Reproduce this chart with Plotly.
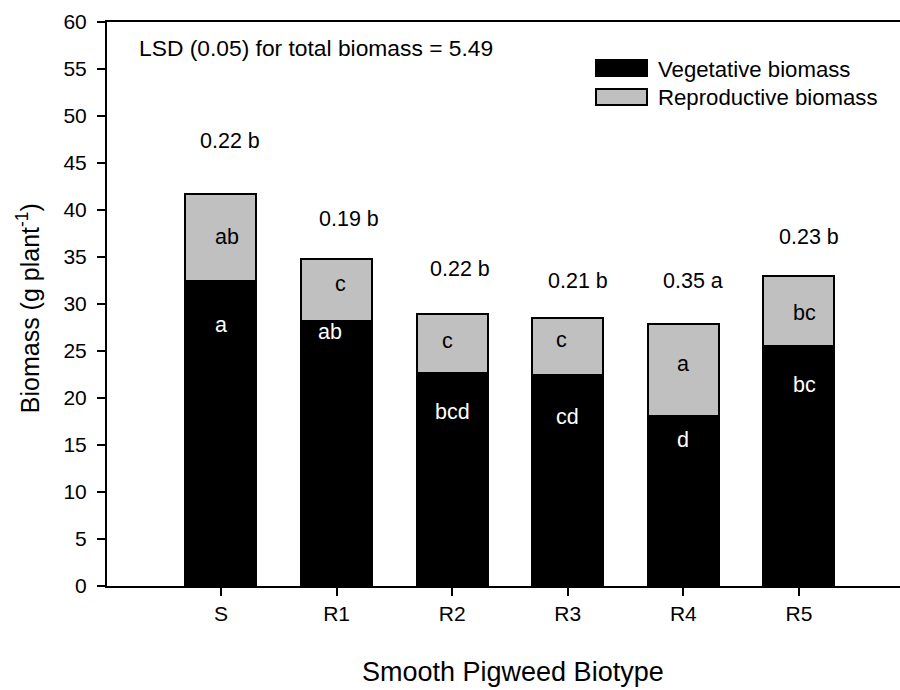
import plotly.graph_objects as go

# Biomass partitioning of smooth pigweed biotypes
biotypes = ["S", "R1", "R2", "R3", "R4", "R5"]
vegetative = [32.5, 28.2, 22.7, 22.5, 18.1, 25.5]
total = [41.7, 34.8, 28.9, 28.5, 27.9, 33.0]
reproductive = [round(t - v, 2) for t, v in zip(total, vegetative)]

veg_letters = ["a", "ab", "bcd", "cd", "d", "bc"]
rep_letters = ["ab", "c", "c", "c", "a", "bc"]
ratio_labels = ["0.22 b", "0.19 b", "0.22 b", "0.21 b", "0.35 a", "0.23 b"]
series_names = ["Vegetative biomass", "Reproductive biomass"]
lsd_note = "LSD (0.05) for total biomass = 5.49"

# label placement (y in data units, x shift in px)
veg_label_y = [27.8, 27.0, 18.5, 18.0, 15.5, 21.4]
veg_label_dx = [0, -7, 0, 0, 0, 6]
rep_label_y = [37.1, 32.1, 26.1, 26.2, 23.6, 29.0]
rep_label_dx = [6, 4, -5, -6, 0, 6]
top_label_y = [47.3, 39.0, 33.7, 32.4, 32.4, 37.1]
top_label_dx = [9, 12, 8, 10, 10, 10]

FONT = "Liberation Sans, Arial, sans-serif"
FS = 21.5
NOTE_FS = 22.8
LEG_FS = 22.2
TICK_FS = 21
GREY = "#C0C0C0"
xpos = list(range(len(biotypes)))
BAR_W = 0.614

fig = go.Figure()
fig.add_trace(go.Bar(
    x=xpos, y=vegetative, name=series_names[0], width=BAR_W,
    marker=dict(color="black", line=dict(color="black", width=2)),
))
fig.add_trace(go.Bar(
    x=xpos, y=reproductive, name=series_names[1], width=BAR_W,
    marker=dict(color=GREY, line=dict(color="black", width=2)),
))

annotations = []
for i in xpos:
    annotations.append(dict(x=i, y=veg_label_y[i], xref="x", yref="y", text=veg_letters[i],
                            showarrow=False, xshift=veg_label_dx[i],
                            font=dict(color="white", size=FS, family=FONT)))
    annotations.append(dict(x=i, y=rep_label_y[i], xref="x", yref="y", text=rep_letters[i],
                            showarrow=False, xshift=rep_label_dx[i],
                            font=dict(color="black", size=FS, family=FONT)))
    annotations.append(dict(x=i, y=top_label_y[i], xref="x", yref="y", text=ratio_labels[i],
                            showarrow=False, xshift=top_label_dx[i],
                            font=dict(color="black", size=FS, family=FONT)))

# LSD note
annotations.append(dict(x=-0.73, y=57.2, xref="x", yref="y", text=lsd_note, showarrow=False,
                        xanchor="left", yanchor="middle",
                        font=dict(color="black", size=NOTE_FS, family=FONT)))

# axis titles
annotations.append(dict(x=0.512, y=-0.153, xref="paper", yref="paper",
                        xanchor="center", yanchor="middle",
                        text="Smooth Pigweed Biotype", showarrow=False,
                        font=dict(color="black", size=27, family=FONT)))
annotations.append(dict(x=-0.1, y=0.492, xref="paper", yref="paper",
                        xanchor="center", yanchor="middle",
                        text="Biomass (g plant<sup>-1</sup>)", showarrow=False, textangle=-90,
                        font=dict(color="black", size=25, family=FONT)))

# custom legend (swatch boxes + labels)
def px_x(px):
    return (px - 107) / 793

def px_y(py):
    return (586 - py) / 564

shapes = [
    dict(type="rect", xref="paper", yref="paper", x0=px_x(596), x1=px_x(647),
         y0=px_y(76), y1=px_y(60), fillcolor="black", line=dict(color="black", width=2)),
    dict(type="rect", xref="paper", yref="paper", x0=px_x(596), x1=px_x(647),
         y0=px_y(105), y1=px_y(89), fillcolor=GREY, line=dict(color="black", width=2)),
]
annotations.append(dict(x=px_x(656), y=px_y(69), xref="paper", yref="paper", text=series_names[0],
                        showarrow=False, xanchor="left", yanchor="middle",
                        font=dict(color="black", size=LEG_FS, family=FONT)))
annotations.append(dict(x=px_x(656), y=px_y(97), xref="paper", yref="paper", text=series_names[1],
                        showarrow=False, xanchor="left", yanchor="middle",
                        font=dict(color="black", size=LEG_FS, family=FONT)))

fig.update_layout(
    barmode="stack",
    width=900, height=690,
    margin=dict(l=107, r=0, t=22, b=104),
    paper_bgcolor="white", plot_bgcolor="white",
    showlegend=False,
    font=dict(family=FONT, size=FS, color="black"),
    annotations=annotations,
    shapes=shapes,
    xaxis=dict(
        range=[-0.986, 5.874], tickvals=xpos, ticktext=biotypes,
        showline=True, linecolor="black", linewidth=2, mirror=True,
        ticks="outside", ticklen=8, tickwidth=2, tickcolor="black",
        showgrid=False, zeroline=False, fixedrange=True,
        tickfont=dict(size=TICK_FS, family=FONT, color="black"),
    ),
    yaxis=dict(
        range=[0, 60], tickvals=list(range(0, 61, 5)),
        showline=True, linecolor="black", linewidth=2,
        ticks="outside", ticklen=8, tickwidth=2, tickcolor="black",
        showgrid=False, zeroline=False, fixedrange=True,
        ticklabelstandoff=6,
        tickfont=dict(size=TICK_FS, family=FONT, color="black"),
    ),
)

fig.write_html("out.html")
